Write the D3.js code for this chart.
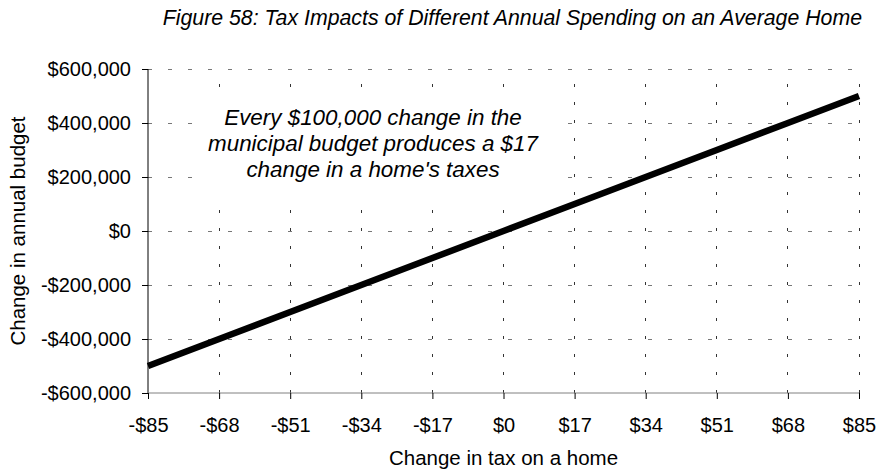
<!DOCTYPE html>
<html>
<head>
<meta charset="utf-8">
<script src="https://cdn.jsdelivr.net/npm/d3@7"></script>
<style>
  html, body { margin: 0; padding: 0; background: #fff; }
  svg { display: block; font-family: "Liberation Sans", Arial, sans-serif; }
</style>
</head>
<body>
<svg id="chart" width="879" height="472"></svg>
<script>
// Change in tax on an average home (dollars) and the matching change in annual budget
const taxChange = [-85, -68, -51, -34, -17, 0, 17, 34, 51, 68, 85];
const budgetChange = [-500000, -400000, -300000, -200000, -100000, 0, 100000, 200000, 300000, 400000, 500000];
const xTicks = [-85, -68, -51, -34, -17, 0, 17, 34, 51, 68, 85];
const yTicks = [-600000, -400000, -200000, 0, 200000, 400000, 600000];

const titleText = "Figure 58: Tax Impacts of Different Annual Spending on an Average Home";
const noteLines = ["Every $100,000 change in the", "municipal budget produces a $17", "change in a home's taxes"];
const xTitle = "Change in tax on a home";
const yTitle = "Change in annual budget";

const svg = d3.select("#chart");
const margin = { left: 148, right: 20, top: 69, bottom: 79 };
const W = 879, H = 472;

const x = d3.scaleLinear().domain([-85, 85]).range([margin.left, W - margin.right]);
const y = d3.scaleLinear().domain([-600000, 600000]).range([H - margin.bottom, margin.top]);

const money = v => (v < 0 ? "-$" : "$") + d3.format(",")(Math.abs(v));

// Title
svg.append("text")
  .attr("x", 862).attr("y", 25)
  .attr("text-anchor", "end")
  .style("font-style", "italic")
  .style("font-size", "21.3px")
  .text(titleText);

// Gridlines
const grid = svg.append("g");
grid.selectAll("line.h").data(yTicks.filter(v => v !== -600000)).join("line")
  .attr("x1", x(-85)).attr("x2", x(85))
  .attr("y1", d => y(d)).attr("y2", d => y(d))
  .attr("stroke", "#777").attr("stroke-width", 1)
  .attr("stroke-dasharray", "4,16")
  .attr("shape-rendering", "crispEdges");
grid.selectAll("line.v").data(xTicks.filter(v => v !== -85)).join("line")
  .attr("x1", d => x(d)).attr("x2", d => x(d))
  .attr("y1", y(-600000)).attr("y2", y(600000))
  .attr("stroke", "#333").attr("stroke-width", 1)
  .attr("stroke-dasharray", "3,15")
  .attr("shape-rendering", "crispEdges");

// Annotation box (white background hides the grid behind the text)
svg.append("rect")
  .attr("x", 193).attr("y", 99).attr("width", 362).attr("height", 104)
  .attr("fill", "#fff");
svg.append("text")
  .attr("x", 373).attr("y", 125)
  .attr("text-anchor", "middle")
  .style("font-style", "italic")
  .style("font-size", "22.4px")
  .selectAll("tspan").data(noteLines).join("tspan")
  .attr("x", 373).attr("dy", (d, i) => i === 0 ? 0 : 26)
  .text(d => d);

// Axes
const yAxis = svg.append("g")
  .attr("transform", `translate(${margin.left},0)`)
  .call(d3.axisLeft(y).tickValues(yTicks).tickFormat(money).tickSize(6).tickPadding(11));
yAxis.select(".domain").attr("stroke", "#000").attr("d", `M0,${y(-600000)}V${y(600000)}`);
yAxis.selectAll("text").style("font-size", "20px").attr("fill", "#000");

const xAxis = svg.append("g")
  .attr("transform", `translate(0,${y(-600000)})`)
  .call(d3.axisBottom(x).tickValues(xTicks).tickFormat(money).tickSize(6).tickPadding(19));
xAxis.select(".domain").attr("stroke", "#808080").attr("d", `M${x(-85)},0H${x(85)}`);
xAxis.selectAll("text").style("font-size", "20px").attr("fill", "#000");

// Data line
const line = d3.line().x((d, i) => x(taxChange[i])).y(d => y(d));
svg.append("path")
  .datum(budgetChange)
  .attr("d", line)
  .attr("fill", "none")
  .attr("stroke", "#000")
  .attr("stroke-width", 6.5);

// Axis titles
svg.append("text")
  .attr("x", x(0)).attr("y", 465)
  .attr("text-anchor", "middle")
  .style("font-size", "20.5px")
  .text(xTitle);
svg.append("text")
  .attr("transform", `translate(25,${y(0)}) rotate(-90)`)
  .attr("text-anchor", "middle")
  .style("font-size", "20.5px")
  .text(yTitle);
</script>
</body>
</html>
